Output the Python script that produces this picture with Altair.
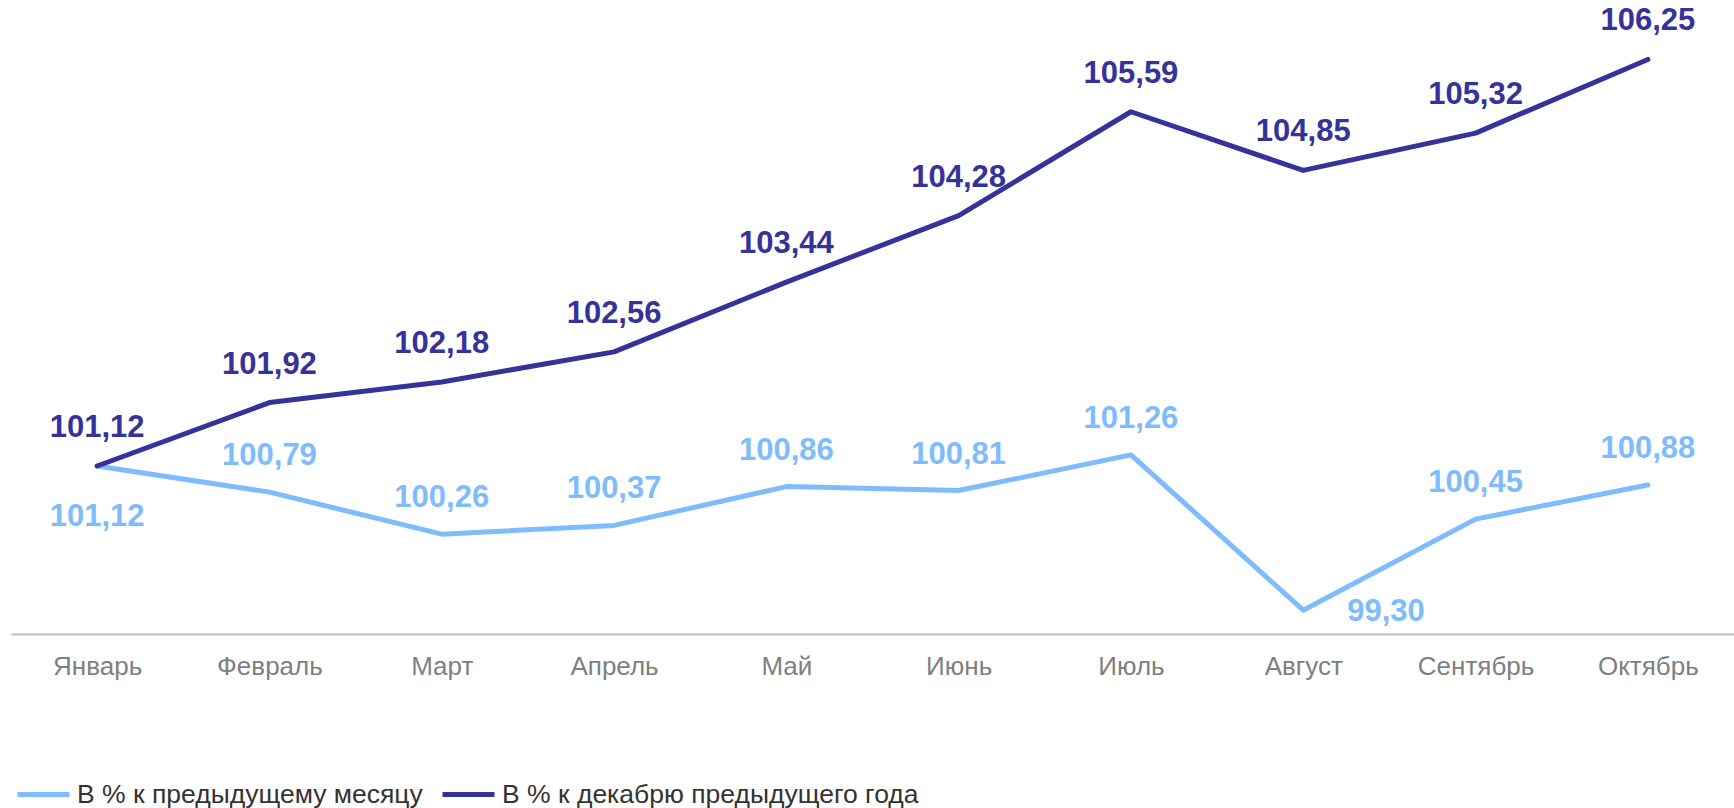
import altair as alt
import pandas as pd

months = ["Январь", "Февраль", "Март", "Апрель", "Май", "Июнь", "Июль",
          "Август", "Сентябрь", "Октябрь"]
series_month = "В % к предыдущему месяцу"
series_dec = "В % к декабрю предыдущего года"
values_month = [101.12, 100.79, 100.26, 100.37, 100.86, 100.81, 101.26, 99.30, 100.45, 100.88]
values_dec = [101.12, 101.92, 102.18, 102.56, 103.44, 104.28, 105.59, 104.85, 105.32, 106.25]

LIGHT = "#7fbcfd"
DARK = "#35329a"
FONT = "Liberation Sans"

rows = []
for i, m in enumerate(months):
    rows.append({"month": m, "order": i, "series": series_month, "value": values_month[i]})
for i, m in enumerate(months):
    rows.append({"month": m, "order": i, "series": series_dec, "value": values_dec[i]})
df = pd.DataFrame(rows)

xenc = alt.X("month:N", sort=months,
             scale=alt.Scale(type="point", padding=0.5),
             axis=alt.Axis(title=None, ticks=False, tickSize=0, grid=False,
                           domainColor="#c0c0c0", domainWidth=2,
                           labelFont=FONT, labelFontSize=26, labelColor="#7f7f7f",
                           labelPadding=40, labelBaseline="alphabetic", labelAngle=0))
yenc = alt.Y("value:Q", scale=alt.Scale(domain=[99, 107], zero=False, nice=False), axis=None)

base = alt.Chart(df).transform_calculate(
    label="replace(format(datum.value, '.2f'), '.', ',')"
)

lines = base.mark_line(strokeWidth=5, strokeCap="round", strokeJoin="round").encode(
    x=xenc,
    y=yenc,
    color=alt.Color("series:N",
                    scale=alt.Scale(domain=[series_month, series_dec], range=[LIGHT, DARK]),
                    legend=alt.Legend(orient="none", legendX=4, legendY=766,
                                      direction="horizontal", title=None,
                                      symbolType="stroke", symbolSize=2700,
                                      symbolStrokeWidth=5, padding=0,
                                      labelFont=FONT, labelFontSize=26.5,
                                      labelColor="#333333", labelOffset=5,
                                      columnPadding=9, labelLimit=700)),
    order="order:Q",
)

txt = dict(font=FONT, fontSize=31, fontWeight="bold", baseline="middle")

dark_labels = base.transform_filter(alt.datum.series == series_dec).mark_text(
    dy=-38, color=DARK, **txt).encode(x=xenc, y=yenc, text="label:N")

light_above = base.transform_filter(
    (alt.datum.series == series_month) & (alt.datum.month != "Январь") & (alt.datum.month != "Август")
).mark_text(dy=-36, color=LIGHT, **txt).encode(x=xenc, y=yenc, text="label:N")

light_below = base.transform_filter(
    (alt.datum.series == series_month) & (alt.datum.month == "Январь")
).mark_text(dy=51, color=LIGHT, **txt).encode(x=xenc, y=yenc, text="label:N")

light_right = base.transform_filter(
    (alt.datum.series == series_month) & (alt.datum.month == "Август")
).mark_text(dy=2, dx=44, align="left", color=LIGHT, **txt).encode(x=xenc, y=yenc, text="label:N")

chart = alt.layer(lines, dark_labels, light_above, light_below, light_right).properties(
    width=1723, height=634,
    background="white",
    autosize=alt.AutoSizeParams(type="none"),
    padding={"left": 11, "top": 0, "right": 0, "bottom": 174},
).configure_view(stroke=None, strokeWidth=0).configure_axisY(domain=False, grid=False)

chart.save("out.html", embed_options={"renderer": "svg", "actions": False})
